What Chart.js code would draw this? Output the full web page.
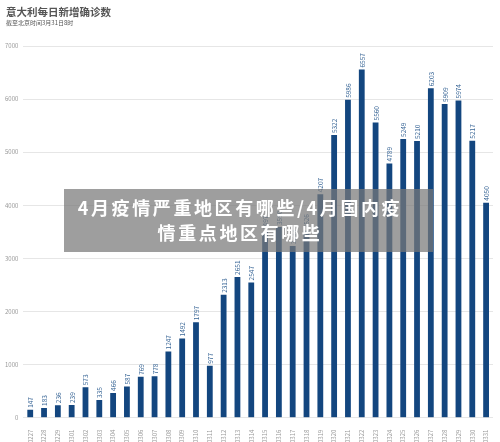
<!DOCTYPE html>
<html>
<head>
<meta charset="utf-8">
<script src="https://cdn.jsdelivr.net/npm/chart.js@4"></script>
<style>
  html, body { margin: 0; padding: 0; background: #fff; }
  #wrap { width: 500px; height: 442px; position: relative; }
</style>
</head>
<body>
<div id="wrap"><canvas id="chart"></canvas></div>
<script>
const dates = ['0227', '0228', '0229', '0301', '0302', '0303', '0304', '0305', '0306', '0307',
    '0308', '0309', '0310', '0311', '0312', '0313', '0314', '0315', '0316', '0317',
    '0318', '0319', '0320', '0321', '0322', '0323', '0324', '0325', '0326', '0327',
    '0328', '0329', '0330', '0331'];
const cases = [147, 183, 236, 239, 573, 335, 466, 587, 769, 778,
    1247, 1492, 1797, 977, 2313, 2651, 2547, 3497, 3590, 3233,
    3526, 4207, 5322, 5986, 6557, 5560, 4789, 5249, 5210, 6203,
    5909, 5974, 5217, 4050];
const title = '意大利每日新增确诊数';
const subtitle = '截至北京时间3月31日8时';
const bannerLines = ['4月疫情严重地区有哪些/4月国内疫', '情重点地区有哪些'];

const FONT = '"Noto Sans CJK SC", "Noto Sans", sans-serif';

// numbers on top of bars, turned upright
const valueLabels = {
    id: 'valueLabels',
    afterDatasetsDraw(chart) {
        const ctx = chart.ctx;
        const meta = chart.getDatasetMeta(0);
        ctx.save();
        ctx.fillStyle = '#3a6797';
        ctx.font = '6.5px ' + FONT;
        ctx.textAlign = 'left';
        ctx.textBaseline = 'middle';
        meta.data.forEach((bar, i) => {
            ctx.save();
            ctx.translate(bar.x, bar.y - 2);
            ctx.rotate(-Math.PI / 2);
            ctx.fillText(String(cases[i]), 0, 0.5);
            ctx.restore();
        });
        ctx.restore();
    }
};

const headerAndBanner = {
    id: 'headerAndBanner',
    afterDraw(chart) {
        const ctx = chart.ctx;
        ctx.save();
        ctx.fillStyle = '#555';
        ctx.textAlign = 'left';
        ctx.textBaseline = 'middle';
        ctx.font = 'bold 10.5px ' + FONT;
        ctx.fillText(title, 6, 12);
        ctx.font = '6px ' + FONT;
        ctx.fillText(subtitle, 6, 23);

        // grey overlay box
        ctx.fillStyle = 'rgba(120,120,120,0.72)';
        ctx.fillRect(64, 189, 369, 63);
        ctx.fillStyle = '#fff';
        ctx.font = 'bold 18px ' + FONT;
        ctx.textAlign = 'center';
        ctx.letterSpacing = '2.6px';
        ctx.fillText(bannerLines[0], 240, 208);
        ctx.fillText(bannerLines[1], 240, 233);
        ctx.restore();
    }
};

new Chart(document.getElementById('chart'), {
    type: 'bar',
    data: {
        labels: dates,
        datasets: [{
            data: cases,
            backgroundColor: '#13467f',
            barPercentage: 0.42,
            categoryPercentage: 1,
        }],
    },
    options: {
        responsive: true,
        maintainAspectRatio: false,
        animation: false,
        layout: { padding: { top: 46, left: 0, right: 7, bottom: -5 } },
        plugins: {
            legend: { display: false },
            tooltip: { enabled: false },
        },
        scales: {
            x: {
                grid: { display: false },
                border: { display: false },
                ticks: {
                    autoSkip: false,
                    maxRotation: 90,
                    minRotation: 90,
                    padding: 4,
                    color: '#999',
                    font: { size: 6, family: FONT },
                },
            },
            y: {
                min: 0,
                max: 7000,
                grid: { color: '#e6e6e6', drawTicks: false },
                border: { display: false },
                ticks: {
                    stepSize: 1000,
                    padding: 5,
                    color: '#999',
                    font: { size: 6, family: FONT },
                    callback: v => String(v),
                },
            },
        },
    },
    plugins: [valueLabels, headerAndBanner],
});
</script>
</body>
</html>
